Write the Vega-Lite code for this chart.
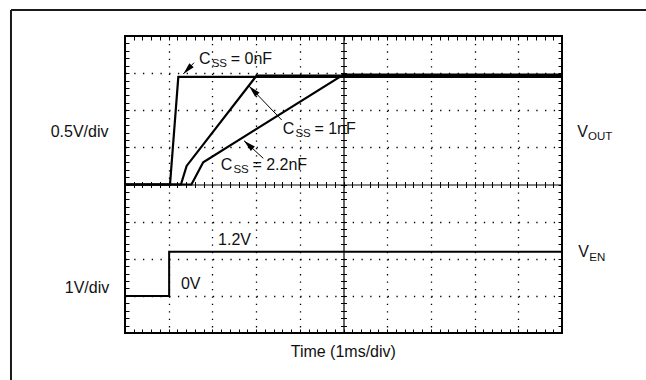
{
  "$schema": "https://vega.github.io/schema/vega-lite/v6.json",
  "width": 437,
  "height": 297,
  "autosize": "none",
  "padding": {"left": 125, "top": 36, "right": 84, "bottom": 47},
  "background": "#ffffff",
  "config": {
    "view": {"stroke": "#000000", "strokeWidth": 2},
    "axis": {"labels": false, "domain": false, "grid": false, "ticks": true, "tickColor": "#000000", "tickWidth": 1},
    "text": {"font": "Liberation Sans", "color": "#111111", "baseline": "alphabetic", "align": "left"}
  },
  "datasets": {
    "vout": [
      {"series": "0nF", "i": 0, "t": 0, "v": 4},
      {"series": "0nF", "i": 1, "t": 1.03, "v": 4},
      {"series": "0nF", "i": 2, "t": 1.22, "v": 6.9},
      {"series": "0nF", "i": 3, "t": 10, "v": 6.9},
      {"series": "1nF", "i": 0, "t": 0, "v": 4},
      {"series": "1nF", "i": 1, "t": 1.28, "v": 4},
      {"series": "1nF", "i": 2, "t": 1.41, "v": 4.5},
      {"series": "1nF", "i": 3, "t": 3.01, "v": 6.93},
      {"series": "1nF", "i": 4, "t": 10, "v": 6.93},
      {"series": "2.2nF", "i": 0, "t": 0, "v": 4},
      {"series": "2.2nF", "i": 1, "t": 1.52, "v": 4},
      {"series": "2.2nF", "i": 2, "t": 1.79, "v": 4.6},
      {"series": "2.2nF", "i": 3, "t": 5.0, "v": 6.96},
      {"series": "2.2nF", "i": 4, "t": 10, "v": 6.96}
    ],
    "ven": [
      {"i": 0, "t": 0, "v": 1},
      {"i": 1, "t": 1.01, "v": 1},
      {"i": 2, "t": 1.01, "v": 2.19},
      {"i": 3, "t": 10, "v": 2.19}
    ],
    "arrows": [
      {"id": "0nF", "x": 1.579, "y": 7.281, "x2": 1.334, "y2": 6.976},
      {"id": "1nF", "x": 3.586, "y": 5.737, "x2": 2.838, "y2": 6.653},
      {"id": "2.2nF", "x": 3.165, "y": 4.705, "x2": 2.723, "y2": 5.18}
    ],
    "labels": [
      {"role": "main", "text": "C", "x": 1.693, "y": 7.238},
      {"role": "main", "text": "= 0nF", "x": 2.419, "y": 7.238},
      {"role": "main", "text": "C", "x": 3.609, "y": 5.352},
      {"role": "main", "text": "= 1nF", "x": 4.334, "y": 5.352},
      {"role": "main", "text": "C", "x": 2.19, "y": 4.391},
      {"role": "main", "text": "= 2.2nF", "x": 2.915, "y": 4.391},
      {"role": "main", "text": "1.2V", "x": 2.13, "y": 2.37},
      {"role": "main", "text": "0V", "x": 1.28, "y": 1.177},
      {"role": "main", "text": "0.5V/div", "x": -1.7, "y": 5.288},
      {"role": "main", "text": "1V/div", "x": -1.378, "y": 1.07},
      {"role": "main", "text": "Time (1ms/div)", "x": 3.792, "y": -0.655},
      {"role": "main", "text": "V", "x": 10.35, "y": 5.288},
      {"role": "main", "text": "V", "x": 10.37, "y": 2.055},
      {"role": "sub", "text": "SS", "x": 1.984, "y": 7.157},
      {"role": "sub", "text": "SS", "x": 3.899, "y": 5.271},
      {"role": "sub", "text": "SS", "x": 2.481, "y": 4.31},
      {"role": "sub", "text": "OUT", "x": 10.595, "y": 5.199},
      {"role": "sub", "text": "EN", "x": 10.625, "y": 1.947}
    ],
    "border": [
      {"x": -2.609, "y": 8.7, "x2": 12.5, "y2": 8.7},
      {"x": -2.609, "y": 8.7, "x2": -2.609, "y2": -1.6}
    ]
  },
  "resolve": {"axis": {"x": "independent", "y": "independent"}},
  "layer": [
    {
      "data": {"name": "vout"},
      "mark": {"type": "line", "color": "#000000", "strokeWidth": 2.2, "strokeJoin": "miter"},
      "encoding": {
        "x": {"field": "t", "type": "quantitative", "scale": {"domain": [0, 10], "nice": false, "zero": false},
              "axis": {"title": null, "orient": "bottom", "values": [1, 2, 3, 4, 6, 7, 8, 9], "ticks": false, "grid": true, "gridColor": "#000000", "gridWidth": 1.3, "gridDash": [1.3, 6.125], "gridOpacity": 1}},
        "y": {"field": "v", "type": "quantitative", "scale": {"domain": [0, 8], "nice": false, "zero": false},
              "axis": {"title": null, "orient": "left", "values": [1, 2, 3, 5, 6, 7], "ticks": false, "grid": true, "gridColor": "#000000", "gridWidth": 1.3, "gridDash": [1.3, 7.44], "gridOpacity": 1}},
        "detail": {"field": "series"},
        "order": {"field": "i", "type": "quantitative"}
      }
    },
    {
      "data": {"name": "ven"},
      "mark": {"type": "line", "color": "#000000", "strokeWidth": 2, "strokeJoin": "miter"},
      "encoding": {
        "x": {"field": "t", "type": "quantitative", "scale": {"domain": [0, 10], "nice": false, "zero": false},
              "axis": {"title": null, "orient": "bottom", "tickSize": -4, "values": [0.2,0.4,0.6,0.8,1,1.2,1.4,1.6,1.8,2,2.2,2.4,2.6,2.8,3,3.2,3.4,3.6,3.8,4,4.2,4.4,4.6,4.8,5,5.2,5.4,5.6,5.8,6,6.2,6.4,6.6,6.8,7,7.2,7.4,7.6,7.8,8,8.2,8.4,8.6,8.8,9,9.2,9.4,9.6,9.8]}},
        "y": {"field": "v", "type": "quantitative", "scale": {"domain": [0, 8], "nice": false, "zero": false},
              "axis": {"title": null, "orient": "left", "tickSize": -4, "values": [0.2,0.4,0.6,0.8,1,1.2,1.4,1.6,1.8,2,2.2,2.4,2.6,2.8,3,3.2,3.4,3.6,3.8,4,4.2,4.4,4.6,4.8,5,5.2,5.4,5.6,5.8,6,6.2,6.4,6.6,6.8,7,7.2,7.4,7.6,7.8]}},
        "order": {"field": "i", "type": "quantitative"}
      }
    },
    {
      "data": {"name": "arrows"},
      "mark": {"type": "rule", "color": "#000000", "strokeWidth": 1},
      "encoding": {
        "x": {"field": "x", "type": "quantitative", "scale": {"domain": [0, 10], "nice": false, "zero": false},
              "axis": {"title": null, "orient": "top", "tickSize": -4, "values": [0.2,0.4,0.6,0.8,1,1.2,1.4,1.6,1.8,2,2.2,2.4,2.6,2.8,3,3.2,3.4,3.6,3.8,4,4.2,4.4,4.6,4.8,5,5.2,5.4,5.6,5.8,6,6.2,6.4,6.6,6.8,7,7.2,7.4,7.6,7.8,8,8.2,8.4,8.6,8.8,9,9.2,9.4,9.6,9.8]}},
        "y": {"field": "y", "type": "quantitative", "scale": {"domain": [0, 8], "nice": false, "zero": false},
              "axis": {"title": null, "orient": "right", "tickSize": -4, "values": [0.2,0.4,0.6,0.8,1,1.2,1.4,1.6,1.8,2,2.2,2.4,2.6,2.8,3,3.2,3.4,3.6,3.8,4,4.2,4.4,4.6,4.8,5,5.2,5.4,5.6,5.8,6,6.2,6.4,6.6,6.8,7,7.2,7.4,7.6,7.8]}},
        "x2": {"field": "x2"},
        "y2": {"field": "y2"}
      }
    },
    {
      "data": {"name": "arrows"},
      "transform": [{"filter": "datum.id === '0nF'"}],
      "mark": {"type": "point", "filled": true, "color": "#000000", "opacity": 1, "strokeWidth": 0, "size": 144, "shape": "M0,0L0.5,2L-0.5,2Z", "angle": 223.4},
      "encoding": {
        "x": {"field": "x2", "type": "quantitative", "scale": {"domain": [0, 10], "nice": false, "zero": false},
              "axis": {"title": null, "orient": "bottom", "offset": -148.5, "domain": true, "domainColor": "#000000", "domainWidth": 1.2, "tickSize": 3, "values": [0.2,0.4,0.6,0.8,1,1.2,1.4,1.6,1.8,2,2.2,2.4,2.6,2.8,3,3.2,3.4,3.6,3.8,4,4.2,4.4,4.6,4.8,5,5.2,5.4,5.6,5.8,6,6.2,6.4,6.6,6.8,7,7.2,7.4,7.6,7.8,8,8.2,8.4,8.6,8.8,9,9.2,9.4,9.6,9.8]}},
        "y": {"field": "y2", "type": "quantitative", "scale": {"domain": [0, 8], "nice": false, "zero": false},
              "axis": {"title": null, "orient": "left", "offset": -218.5, "domain": true, "domainColor": "#000000", "domainWidth": 1.2, "tickSize": 3, "values": [0.2,0.4,0.6,0.8,1,1.2,1.4,1.6,1.8,2,2.2,2.4,2.6,2.8,3,3.2,3.4,3.6,3.8,4,4.2,4.4,4.6,4.8,5,5.2,5.4,5.6,5.8,6,6.2,6.4,6.6,6.8,7,7.2,7.4,7.6,7.8]}}
      }
    },
    {
      "data": {"name": "arrows"},
      "transform": [{"filter": "datum.id === '1nF'"}],
      "mark": {"type": "point", "filled": true, "color": "#000000", "opacity": 1, "strokeWidth": 0, "size": 144, "shape": "M0,0L0.5,2L-0.5,2Z", "angle": 316.1},
      "encoding": {
        "x": {"field": "x2", "type": "quantitative", "scale": {"domain": [0, 10], "nice": false, "zero": false},
              "axis": {"title": null, "orient": "top", "offset": -148.5, "tickSize": 3, "values": [0.2,0.4,0.6,0.8,1,1.2,1.4,1.6,1.8,2,2.2,2.4,2.6,2.8,3,3.2,3.4,3.6,3.8,4,4.2,4.4,4.6,4.8,5,5.2,5.4,5.6,5.8,6,6.2,6.4,6.6,6.8,7,7.2,7.4,7.6,7.8,8,8.2,8.4,8.6,8.8,9,9.2,9.4,9.6,9.8]}},
        "y": {"field": "y2", "type": "quantitative", "scale": {"domain": [0, 8], "nice": false, "zero": false},
              "axis": {"title": null, "orient": "right", "offset": -218.5, "tickSize": 3, "values": [0.2,0.4,0.6,0.8,1,1.2,1.4,1.6,1.8,2,2.2,2.4,2.6,2.8,3,3.2,3.4,3.6,3.8,4,4.2,4.4,4.6,4.8,5,5.2,5.4,5.6,5.8,6,6.2,6.4,6.6,6.8,7,7.2,7.4,7.6,7.8]}}
      }
    },
    {
      "data": {"name": "arrows"},
      "transform": [{"filter": "datum.id === '2.2nF'"}],
      "mark": {"type": "point", "filled": true, "color": "#000000", "opacity": 1, "strokeWidth": 0, "size": 144, "shape": "M0,0L0.5,2L-0.5,2Z", "angle": 312.4},
      "encoding": {
        "x": {"field": "x2", "type": "quantitative", "scale": {"domain": [0, 10], "nice": false, "zero": false}, "axis": null},
        "y": {"field": "y2", "type": "quantitative", "scale": {"domain": [0, 8], "nice": false, "zero": false}, "axis": null}
      }
    },
    {
      "data": {"name": "labels"},
      "transform": [{"filter": "datum.role === 'main'"}],
      "mark": {"type": "text", "fontSize": 16},
      "encoding": {
        "x": {"field": "x", "type": "quantitative", "scale": {"domain": [0, 10], "nice": false, "zero": false}, "axis": null},
        "y": {"field": "y", "type": "quantitative", "scale": {"domain": [0, 8], "nice": false, "zero": false}, "axis": null},
        "text": {"field": "text"}
      }
    },
    {
      "data": {"name": "labels"},
      "transform": [{"filter": "datum.role === 'sub'"}],
      "mark": {"type": "text", "fontSize": 11.5},
      "encoding": {
        "x": {"field": "x", "type": "quantitative", "scale": {"domain": [0, 10], "nice": false, "zero": false}, "axis": null},
        "y": {"field": "y", "type": "quantitative", "scale": {"domain": [0, 8], "nice": false, "zero": false}, "axis": null},
        "text": {"field": "text"}
      }
    },
    {
      "data": {"name": "border"},
      "mark": {"type": "rule", "color": "#1a1a1a", "strokeWidth": 2},
      "encoding": {
        "x": {"field": "x", "type": "quantitative", "scale": {"domain": [0, 10], "nice": false, "zero": false}, "axis": null},
        "y": {"field": "y", "type": "quantitative", "scale": {"domain": [0, 8], "nice": false, "zero": false}, "axis": null},
        "x2": {"field": "x2"},
        "y2": {"field": "y2"}
      }
    }
  ]
}
